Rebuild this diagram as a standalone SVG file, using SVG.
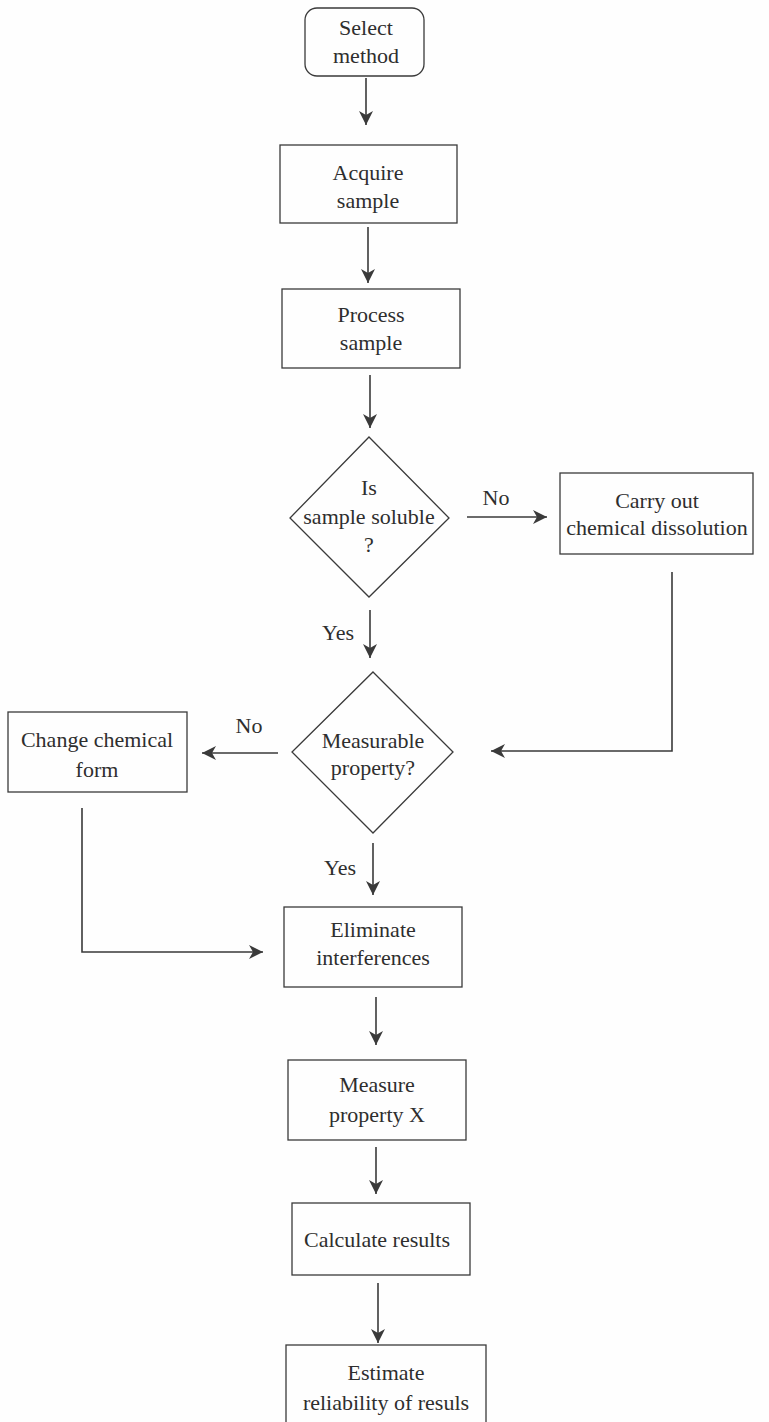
<svg xmlns="http://www.w3.org/2000/svg" width="769" height="1422" viewBox="0 0 769 1422">
<style>
.box{fill:none;stroke:#3a3a3a;stroke-width:1.3}
.t{font-family:'Liberation Serif','DejaVu Serif',Tinos,'Times New Roman',serif;font-size:22px;fill:#2e2e2e;text-anchor:middle}
.c{fill:none;stroke:#3a3a3a;stroke-width:1.6}
</style>
<defs>
<marker id="ah" markerUnits="userSpaceOnUse" markerWidth="16" markerHeight="14" refX="14" refY="7" orient="auto">
<path d="M0,0 L14,7 L0,14 L4,7 Z" fill="#3a3a3a"/>
</marker>
</defs>
<rect width="769" height="1422" fill="#fefefe"/>
<g id="connectors">
<line class="c" x1="366" y1="78" x2="366" y2="125" marker-end="url(#ah)"/>
<line class="c" x1="368" y1="227" x2="368" y2="283" marker-end="url(#ah)"/>
<line class="c" x1="370" y1="375" x2="370" y2="428" marker-end="url(#ah)"/>
<line class="c" x1="467" y1="517" x2="547" y2="517" marker-end="url(#ah)"/>
<line class="c" x1="370" y1="610" x2="370" y2="658" marker-end="url(#ah)"/>
<polyline class="c" points="672,572 672,751 491,751" marker-end="url(#ah)"/>
<line class="c" x1="278" y1="753" x2="202" y2="753" marker-end="url(#ah)"/>
<line class="c" x1="373" y1="843" x2="373" y2="895" marker-end="url(#ah)"/>
<polyline class="c" points="82,808 82,952 263,952" marker-end="url(#ah)"/>
<line class="c" x1="376" y1="997" x2="376" y2="1045" marker-end="url(#ah)"/>
<line class="c" x1="376" y1="1147" x2="376" y2="1194" marker-end="url(#ah)"/>
<line class="c" x1="378" y1="1283" x2="378" y2="1343" marker-end="url(#ah)"/>
<text class="t" x="496" y="505" font-family="Liberation Serif, serif">No</text>
<text class="t" x="338" y="640" font-family="Liberation Serif, serif">Yes</text>
<text class="t" x="249" y="733" font-family="Liberation Serif, serif">No</text>
<text class="t" x="340" y="875" font-family="Liberation Serif, serif">Yes</text>
</g>
<g id="select">
<rect class="box" x="305" y="8" width="119" height="68" rx="12"/>
<text class="t" x="366" y="35">Select</text>
<text class="t" x="366" y="63">method</text>
</g>
<g id="acquire">
<rect class="box" x="280" y="145" width="177" height="78"/>
<text class="t" x="368" y="180">Acquire</text>
<text class="t" x="368" y="208">sample</text>
</g>
<g id="process">
<rect class="box" x="282" y="289" width="178" height="79"/>
<text class="t" x="371" y="322">Process</text>
<text class="t" x="371" y="350">sample</text>
</g>
<g id="soluble">
<polygon class="box" points="369,437 449,518 369,597 290,518"/>
<text class="t" x="369" y="495">Is</text>
<text class="t" x="369" y="524">sample soluble</text>
<text class="t" x="369" y="552">?</text>
</g>
<g id="dissolution">
<rect class="box" x="560" y="473" width="193" height="81"/>
<text class="t" x="657" y="508">Carry out</text>
<text class="t" x="657" y="535">chemical dissolution</text>
</g>
<g id="measurable">
<polygon class="box" points="373,672 453,752 373,833 292,752"/>
<text class="t" x="373" y="748">Measurable</text>
<text class="t" x="373" y="775">property?</text>
</g>
<g id="change">
<rect class="box" x="8" y="712" width="179" height="80"/>
<text class="t" x="97" y="747">Change chemical</text>
<text class="t" x="97" y="777">form</text>
</g>
<g id="eliminate">
<rect class="box" x="284" y="907" width="178" height="80"/>
<text class="t" x="373" y="937">Eliminate</text>
<text class="t" x="373" y="965">interferences</text>
</g>
<g id="measure">
<rect class="box" x="288" y="1060" width="178" height="80"/>
<text class="t" x="377" y="1092">Measure</text>
<text class="t" x="377" y="1122">property X</text>
</g>
<g id="calculate">
<rect class="box" x="292" y="1203" width="178" height="72"/>
<text class="t" x="377" y="1247">Calculate results</text>
</g>
<g id="estimate">
<rect class="box" x="286" y="1345" width="200" height="85"/>
<text class="t" x="386" y="1380">Estimate</text>
<text class="t" x="386" y="1410">reliability of resuls</text>
</g>
</svg>
